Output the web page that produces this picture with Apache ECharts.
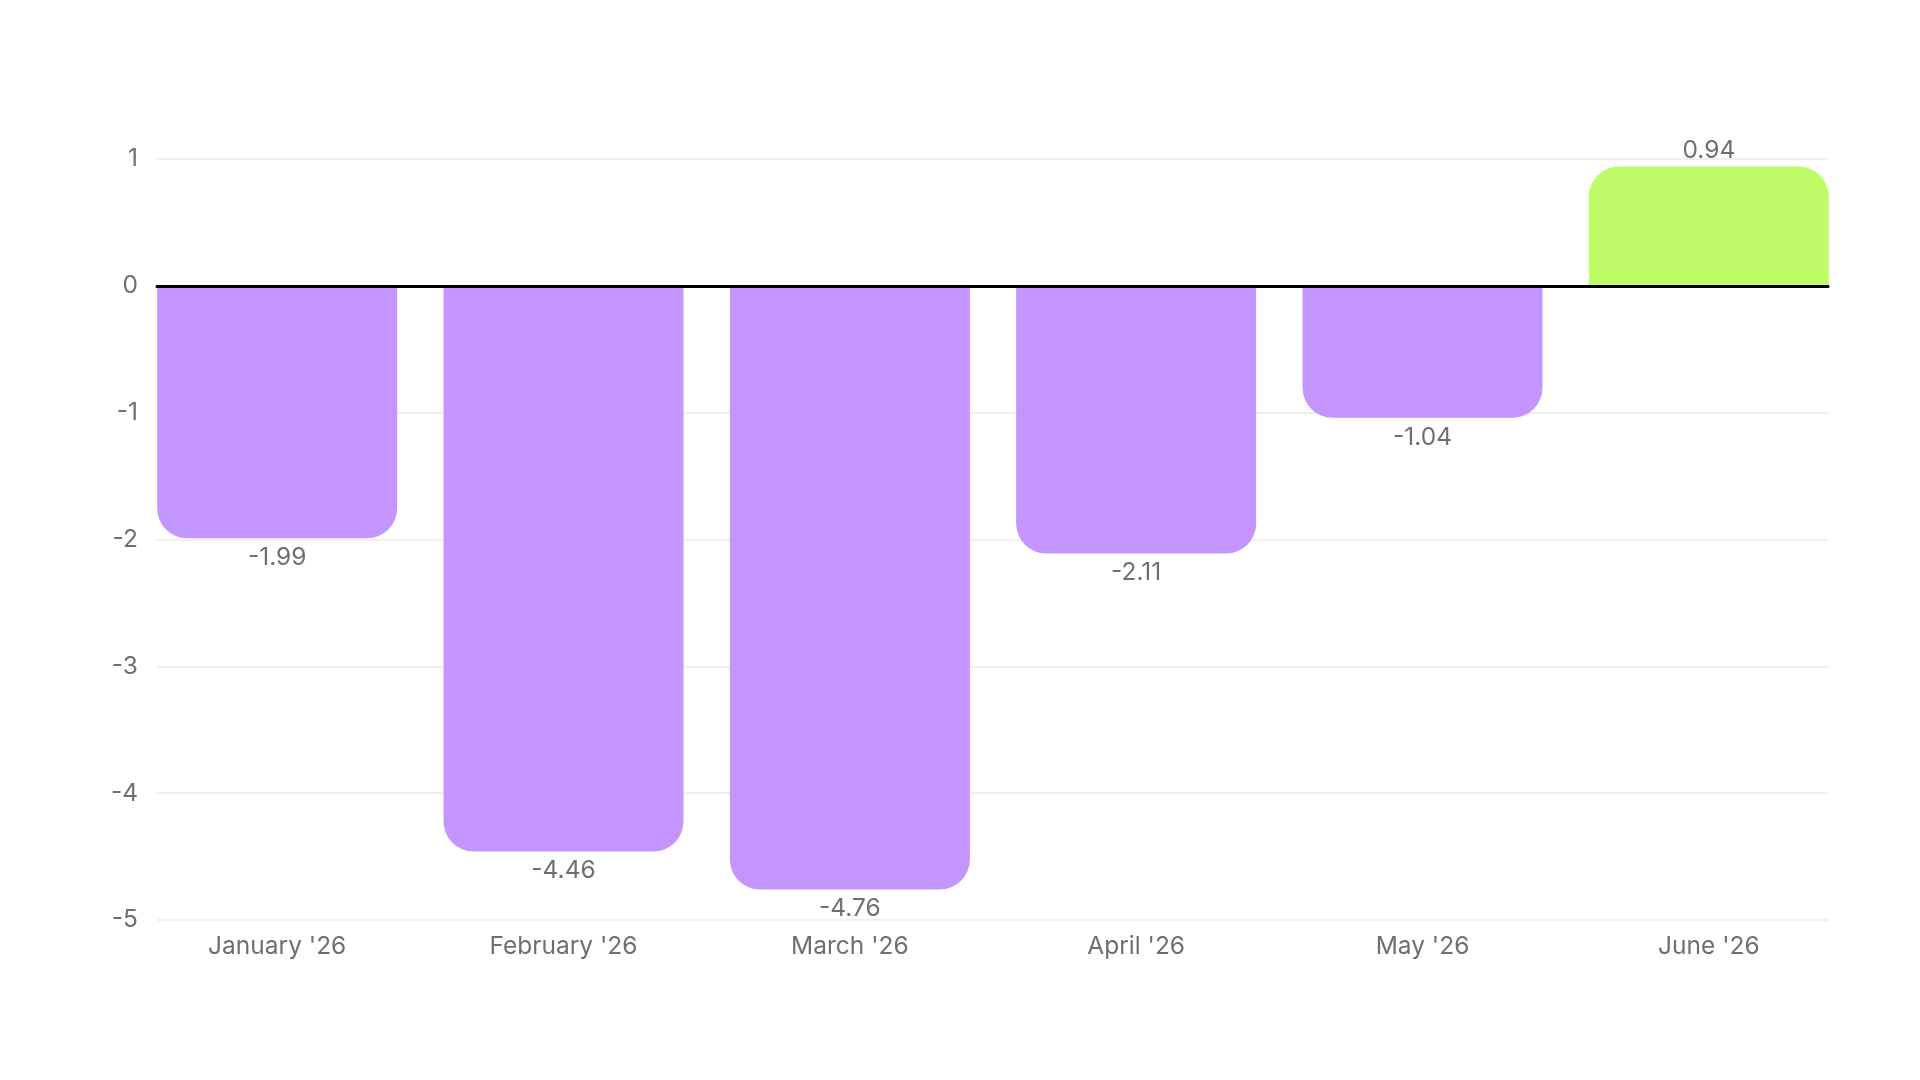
<!DOCTYPE html>
<html>
<head>
<meta charset="utf-8">
<script src="https://cdn.jsdelivr.net/npm/echarts@6/dist/echarts.min.js"></script>
<style>
html,body{margin:0;padding:0;background:#fff;}
#chart{width:1920px;height:1080px;}
</style>
</head>
<body>
<div id="chart"></div>
<script>
// data
var months = ["January '26", "February '26", "March '26", "April '26", "May '26", "June '26"];
var values = [-1.99, -4.46, -4.76, -2.11, -1.04, 0.94];
var yTicks = [-5, -4, -3, -2, -1, 0, 1];

var purple = '#c595ff';
var green = '#bffb66';
var textColor = '#6f6f6f';
var font = 'Inter';
var r = 30;

var barData = values.map(function(v){
	var up = v >= 0;
	return {
		value: v,
		itemStyle: {
			color: up ? green : purple,
			borderRadius: up ? [r, r, 0, 0] : [0, 0, r, r]
		},
		label: {
			position: up ? 'top' : 'bottom',
			distance: up ? 3 : 7
		}
	};
});

var myChart = echarts.init(document.getElementById('chart'));
var option = {
	backgroundColor: '#fff',
	animation: false,
	grid: [
		// bars: category bands sized so outer bars touch the gridline ends
		{left: 134, right: 68, top: 159, bottom: 160},
		// gridlines, y labels, zero line
		{left: 157, right: 92, top: 159, bottom: 160}
	],
	xAxis: [
		{
			type: 'category',
			gridIndex: 0,
			data: months,
			axisLine: {show: false, onZero: false},
			axisTick: {show: false},
			axisLabel: {
				color: textColor,
				fontFamily: font,
				fontSize: 24.5,
				margin: 14
			}
		},
		{
			type: 'value',
			gridIndex: 1,
			min: 0,
			max: 1,
			z: 10,
			axisLine: {show: true, onZero: true, lineStyle: {color: '#000', width: 3}},
			axisTick: {show: false},
			axisLabel: {show: false},
			splitLine: {show: false}
		}
	],
	yAxis: [
		{
			type: 'value',
			gridIndex: 0,
			min: yTicks[0],
			max: yTicks[yTicks.length - 1],
			interval: 1,
			show: false,
			splitLine: {show: false}
		},
		{
			type: 'value',
			gridIndex: 1,
			min: yTicks[0],
			max: yTicks[yTicks.length - 1],
			interval: 1,
			axisLine: {show: false},
			axisTick: {show: false},
			axisLabel: {
				color: textColor,
				fontFamily: font,
				fontSize: 24.5,
				margin: 19,
				padding: [4, 0, 0, 0]
			},
			splitLine: {lineStyle: {color: '#ebebeb', width: 1.5}}
		}
	],
	series: [
		{
			type: 'bar',
			xAxisIndex: 0,
			yAxisIndex: 0,
			barWidth: 240,
			data: barData,
			label: {
				show: true,
				color: textColor,
				fontFamily: font,
				fontSize: 24.5
			}
		}
	]
};
myChart.setOption(option);
</script>
</body>
</html>
